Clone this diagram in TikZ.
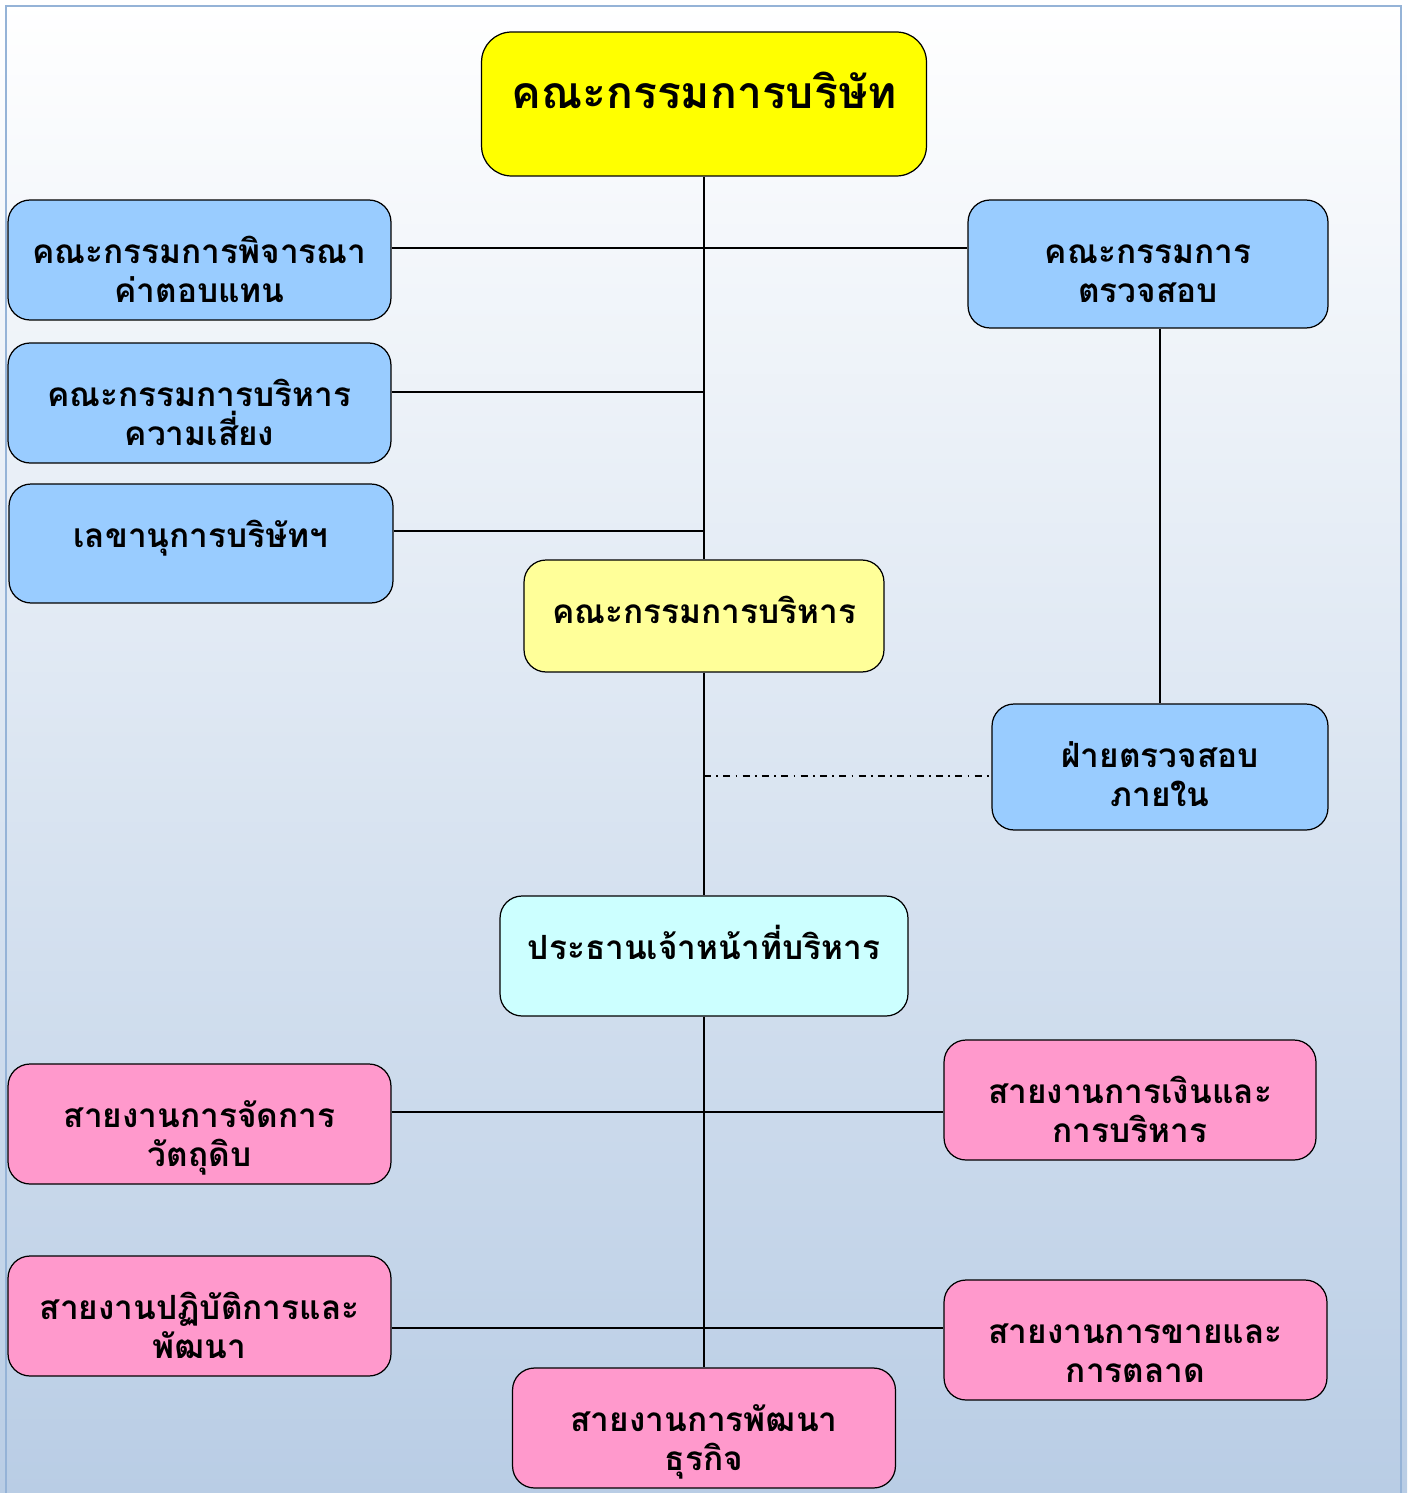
\documentclass[tikz,border=0pt]{standalone}
\usepackage{fontspec}
\newfontfamily\thaifont[Script=Thai]{Loma}
\definecolor{bgblue}{RGB}{185,205,229}
\definecolor{framblue}{RGB}{149,179,215}
\definecolor{boardyellow}{HTML}{FFFF00}
\definecolor{execyellow}{HTML}{FFFF99}
\definecolor{commblue}{HTML}{99CCFF}
\definecolor{ceocyan}{HTML}{CCFFFF}
\definecolor{deptpink}{HTML}{FF99CC}
\begin{document}
\begin{tikzpicture}[x=0.02cm,y=-0.02cm,
    unit/.style={draw=black, line width=0.7pt, rounded corners=0.44cm, inner sep=0pt},
    unittext/.style={anchor=base, align=center, inner sep=0pt,
      font=\thaifont\bfseries\fontsize{19}{22}\selectfont},
    link/.style={line width=1pt}]
  % background and frame
  \useasboundingbox (0,0) rectangle (1407,1493);
  \shade[top color=white, bottom color=bgblue] (0,0) rectangle (1407,1493);
  \begin{scope}
    \clip (0,0) rectangle (1407,1493);
    \draw[framblue, line width=1.6pt] (6,6) rectangle (1401,1520);
  \end{scope}

  % boxes
  \node[unit, fill=boardyellow, minimum width=8.9cm, minimum height=2.88cm, rounded corners=0.6cm] (board) at (704,104) {};
  \node[unit, fill=commblue, minimum width=7.66cm, minimum height=2.4cm] (rem) at (199.5,260) {};
  \node[unit, fill=commblue, minimum width=7.2cm, minimum height=2.56cm] (audit) at (1148,264) {};
  \node[unit, fill=commblue, minimum width=7.66cm, minimum height=2.4cm] (risk) at (199.5,403) {};
  \node[unit, fill=commblue, minimum width=7.68cm, minimum height=2.38cm] (sec) at (201,543.5) {};
  \node[unit, fill=execyellow, minimum width=7.2cm, minimum height=2.24cm] (exec) at (704,616) {};
  \node[unit, fill=commblue, minimum width=6.72cm, minimum height=2.52cm] (intaudit) at (1160,767) {};
  \node[unit, fill=ceocyan, minimum width=8.16cm, minimum height=2.4cm] (ceo) at (704,956) {};
  \node[unit, fill=deptpink, minimum width=7.66cm, minimum height=2.4cm] (raw) at (199.5,1124) {};
  \node[unit, fill=deptpink, minimum width=7.44cm, minimum height=2.4cm] (fin) at (1130,1100) {};
  \node[unit, fill=deptpink, minimum width=7.66cm, minimum height=2.4cm] (ops) at (199.5,1316) {};
  \node[unit, fill=deptpink, minimum width=7.66cm, minimum height=2.4cm] (sales) at (1135.5,1340) {};
  \node[unit, fill=deptpink, minimum width=7.66cm, minimum height=2.4cm] (bizdev) at (704,1428) {};

  % texts (base = last line)
  \node[unittext, font=\thaifont\bfseries\fontsize{25.3}{28}\selectfont] (boardt) at ([yshift=-1.54cm]board.north) {คณะกรรมการบริษัท};
  \node[unittext] (remt) at ([yshift=-2.06cm]rem.north) {คณะกรรมการพิจารณา\\ค่าตอบแทน};
  \node[unittext] (auditt) at ([yshift=-2.06cm]audit.north) {คณะกรรมการ\\ตรวจสอบ};
  \node[unittext] (riskt) at ([yshift=-2.06cm]risk.north) {คณะกรรมการบริหาร\\ความเสี่ยง};
  \node[unittext] (sect) at ([yshift=-1.28cm]sec.north) {เลขานุการบริษัทฯ};
  \node[unittext] (exect) at ([yshift=-1.28cm]exec.north) {คณะกรรมการบริหาร};
  \node[unittext] (intauditt) at ([yshift=-2.06cm]intaudit.north) {ฝ่ายตรวจสอบ\\ภายใน};
  \node[unittext] (ceot) at ([yshift=-1.28cm]ceo.north) {ประธานเจ้าหน้าที่บริหาร};
  \node[unittext] (rawt) at ([yshift=-2.06cm]raw.north) {สายงานการจัดการ\\วัตถุดิบ};
  \node[unittext] (fint) at ([yshift=-2.06cm]fin.north) {สายงานการเงินและ\\การบริหาร};
  \node[unittext] (opst) at ([yshift=-2.06cm]ops.north) {สายงานปฏิบัติการและ\\พัฒนา};
  \node[unittext] (salest) at ([yshift=-2.06cm]sales.north) {สายงานการขายและ\\การตลาด};
  \node[unittext] (bizdevt) at ([yshift=-2.06cm]bizdev.north) {สายงานการพัฒนา\\ธุรกิจ};

  % connectors
  \coordinate (remline) at ([yshift=0.24cm]rem.east);
  \coordinate (riskline) at ([yshift=0.22cm]risk.east);
  \coordinate (secline) at ([yshift=0.25cm]sec.east);
  \coordinate (intline) at ([yshift=-0.18cm]intaudit.west);
  \coordinate (rawline) at ([yshift=0.24cm]raw.east);
  \coordinate (opsline) at ([yshift=-0.24cm]ops.east);
  \begin{scope}[link]
    \draw (board.south) -- (exec.north);
    \draw (exec.south) -- (ceo.north);
    \draw (ceo.south) -- (bizdev.north);
    \draw (remline) -- (remline -| audit.west);
    \draw (riskline) -- (riskline -| board.south);
    \draw (secline) -- (secline -| board.south);
    \draw (intaudit.north) -- (intaudit.north |- audit.south);
    \draw (rawline) -- (rawline -| fin.west);
    \draw (opsline) -- (opsline -| sales.west);
  \end{scope}
  \draw[line width=0.7pt, dash pattern=on 4pt off 3pt on 1pt off 3pt] (intline -| exec.south) -- (intline);
\end{tikzpicture}
\end{document}
